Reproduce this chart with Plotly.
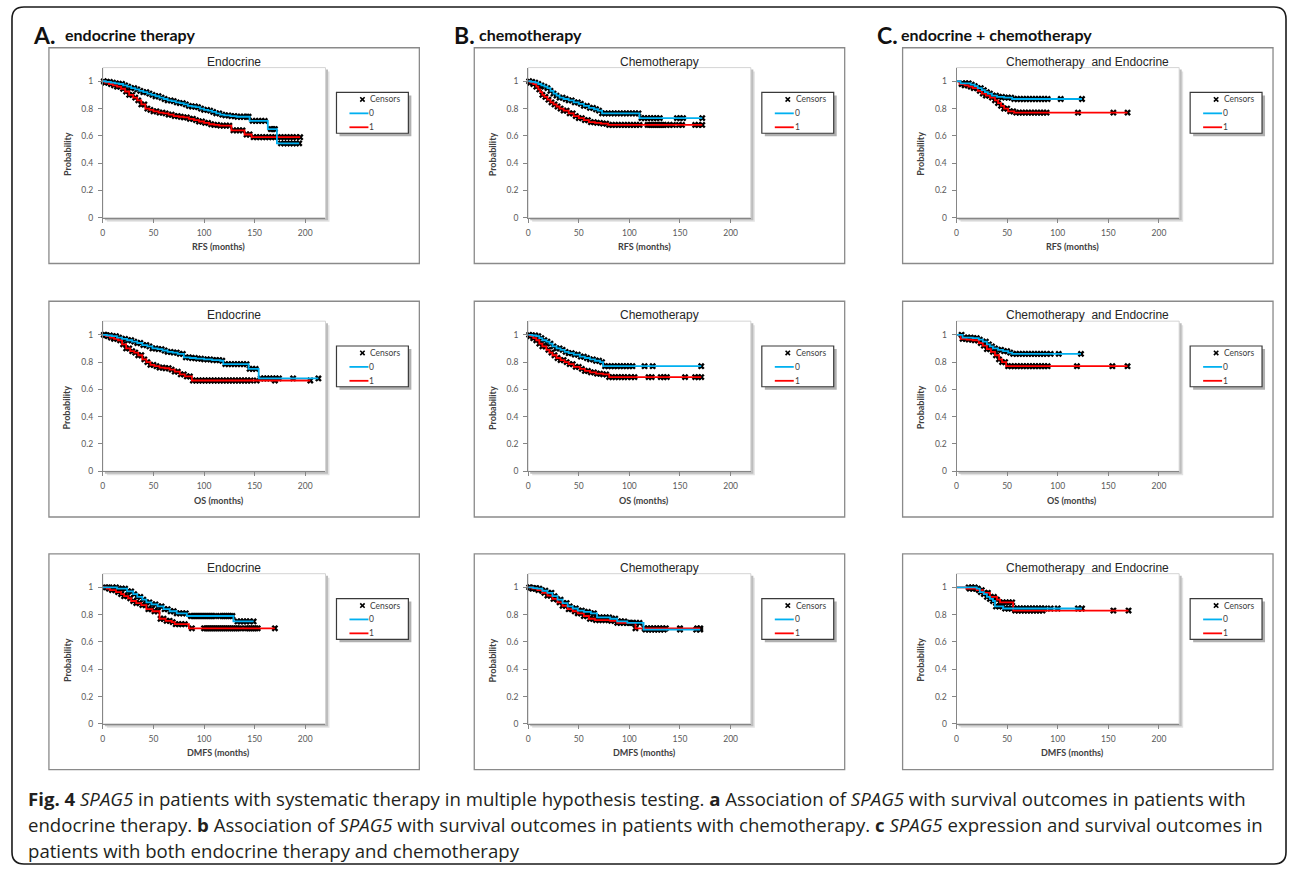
import numpy as np
import plotly.graph_objects as go

# ------------------------------------------------------------------
# DATA  (Kaplan-Meier step points: time of drop, survival after drop;
#        censor times; group 0 = blue, group 1 = red)
# ------------------------------------------------------------------
# A. endocrine therapy -------------------------------------------------
A_RFS_T0 = [3, 8, 12, 16, 20, 24, 28, 32, 36, 40, 44, 48, 52, 56, 60, 64, 68, 72, 76, 80, 84, 88, 92, 96, 100, 104, 108, 112, 116, 120, 126, 132, 145, 163, 172]
A_RFS_S0 = [0.995, 0.99, 0.985, 0.98, 0.97, 0.96, 0.95, 0.94, 0.93, 0.92, 0.91, 0.90, 0.89, 0.88, 0.87, 0.86, 0.855, 0.845, 0.84, 0.83, 0.82, 0.815, 0.81, 0.80, 0.79, 0.785, 0.775, 0.765, 0.755, 0.75, 0.745, 0.74, 0.71, 0.65, 0.545]
A_RFS_C0 = [1, 4, 7, 10, 13, 16, 19, 22, 25, 28, 31, 34, 37, 40, 43, 46, 49, 52, 55, 58, 61, 64, 67, 70, 73, 76, 79, 82, 85, 88, 91, 94, 97, 100, 103, 106, 109, 112, 115, 118, 121, 124, 127, 130, 133, 136, 139, 142, 144, 148, 151, 154, 157, 160, 166, 168, 170, 176, 179, 182, 185, 188, 191, 194]
A_RFS_T1 = [2, 6, 10, 14, 18, 22, 26, 30, 34, 38, 42, 46, 50, 55, 60, 65, 70, 75, 80, 85, 90, 95, 100, 105, 110, 115, 127, 140, 147]
A_RFS_S1 = [0.99, 0.98, 0.97, 0.96, 0.945, 0.925, 0.90, 0.88, 0.86, 0.83, 0.80, 0.79, 0.78, 0.77, 0.765, 0.755, 0.745, 0.74, 0.735, 0.725, 0.715, 0.705, 0.695, 0.685, 0.68, 0.675, 0.64, 0.61, 0.59]
A_RFS_C1 = [2, 5, 8, 11, 14, 17, 20, 23, 26, 29, 32, 35, 38, 41, 44, 47, 50, 53, 56, 59, 62, 65, 68, 71, 74, 77, 80, 83, 86, 89, 92, 95, 98, 101, 104, 107, 110, 113, 116, 119, 122, 125, 129, 132, 135, 138, 142, 145, 149, 152, 155, 158, 161, 164, 167, 170, 173, 176, 179, 182, 185, 188, 191, 195]

A_OS_T0 = [4, 9, 14, 19, 24, 29, 34, 39, 44, 49, 54, 59, 64, 69, 74, 80, 86, 92, 100, 108, 116, 119, 144, 154]
A_OS_S0 = [0.995, 0.99, 0.98, 0.97, 0.96, 0.95, 0.94, 0.925, 0.915, 0.90, 0.895, 0.885, 0.875, 0.87, 0.86, 0.835, 0.83, 0.825, 0.82, 0.815, 0.81, 0.785, 0.75, 0.68]
A_OS_C0 = [1, 4, 7, 10, 13, 16, 19, 22, 25, 28, 31, 34, 37, 40, 43, 46, 49, 52, 55, 58, 61, 64, 67, 70, 73, 76, 79, 82, 85, 88, 91, 94, 97, 100, 103, 106, 109, 112, 115, 118, 121, 124, 127, 130, 133, 136, 139, 142, 145, 148, 151, 156, 159, 162, 165, 168, 171, 174, 188, 213]
A_OS_T1 = [3, 7, 11, 15, 19, 23, 27, 31, 35, 39, 43, 47, 51, 56, 61, 66, 71, 76, 81, 88]
A_OS_S1 = [0.99, 0.98, 0.97, 0.96, 0.93, 0.90, 0.88, 0.87, 0.85, 0.82, 0.80, 0.78, 0.77, 0.76, 0.755, 0.745, 0.73, 0.71, 0.695, 0.665]
A_OS_C1 = [2, 5, 8, 11, 14, 17, 20, 23, 26, 29, 32, 35, 38, 41, 44, 47, 50, 53, 56, 59, 62, 65, 68, 71, 74, 77, 80, 83, 86, 89, 92, 95, 98, 101, 104, 107, 110, 113, 116, 119, 122, 125, 128, 131, 134, 137, 140, 143, 146, 152, 170, 205]

A_DMFS_T0 = [14, 24, 30, 34, 39, 43, 48, 54, 60, 66, 73, 83, 129]
A_DMFS_S0 = [0.99, 0.97, 0.95, 0.93, 0.91, 0.89, 0.875, 0.86, 0.84, 0.825, 0.81, 0.79, 0.75]
A_DMFS_C0 = [5, 10, 13, 16, 19, 22, 25, 28, 31, 34, 37, 40, 43, 46, 49, 52, 55, 58, 61, 64, 67, 70, 73, 76, 79, 82, 87, 89, 91, 93, 95, 97, 99, 101, 103, 105, 107, 109, 111, 116, 118, 120, 122, 124, 126, 128, 133, 136, 139, 142, 145, 149]
A_DMFS_T1 = [4, 7, 13, 18, 21, 25, 28, 33, 38, 43, 49, 56, 62, 68, 71, 85]
A_DMFS_S1 = [0.99, 0.98, 0.965, 0.95, 0.935, 0.92, 0.90, 0.885, 0.87, 0.84, 0.825, 0.77, 0.755, 0.745, 0.73, 0.70]
A_DMFS_C1 = [3, 6, 9, 12, 15, 18, 21, 24, 27, 30, 33, 36, 39, 42, 45, 48, 51, 54, 57, 60, 63, 66, 69, 72, 75, 78, 81, 88, 100, 102, 104, 106, 108, 110, 112, 114, 116, 118, 120, 122, 124, 126, 128, 130, 132, 134, 136, 141, 143, 145, 147, 149, 151, 153, 170]

# B. chemotherapy ------------------------------------------------------
B_RFS_T0 = [3, 7, 10, 13, 16, 19, 22, 25, 28, 31, 35, 40, 45, 50, 55, 60, 65, 69, 73, 110]
B_RFS_S0 = [0.995, 0.99, 0.98, 0.97, 0.96, 0.95, 0.93, 0.91, 0.895, 0.88, 0.87, 0.86, 0.845, 0.835, 0.82, 0.805, 0.795, 0.785, 0.765, 0.73]
B_RFS_C0 = [1, 4, 7, 10, 13, 16, 19, 22, 25, 28, 31, 34, 37, 40, 43, 46, 49, 52, 55, 58, 61, 64, 67, 70, 73, 76, 79, 82, 85, 88, 91, 94, 97, 100, 103, 106, 109, 112, 115, 118, 121, 124, 127, 130, 147, 150, 153, 172]
B_RFS_T1 = [2, 5, 8, 10, 12, 14, 16, 19, 22, 25, 28, 31, 35, 40, 45, 50, 55, 60, 66, 72, 79]
B_RFS_S1 = [0.99, 0.98, 0.96, 0.94, 0.92, 0.90, 0.885, 0.865, 0.845, 0.83, 0.815, 0.80, 0.785, 0.765, 0.745, 0.73, 0.715, 0.70, 0.695, 0.69, 0.68]
B_RFS_C1 = [2, 5, 8, 11, 14, 17, 20, 23, 26, 29, 32, 35, 38, 41, 44, 47, 50, 53, 56, 59, 62, 65, 68, 71, 74, 77, 80, 83, 86, 89, 92, 95, 98, 101, 104, 107, 110, 118, 120, 122, 124, 126, 128, 130, 132, 134, 137, 140, 143, 149, 152, 165, 168, 172]

B_OS_T0 = [4, 8, 11, 14, 18, 21, 24, 28, 32, 36, 40, 45, 51, 56, 61, 66, 71, 74]
B_OS_S0 = [0.995, 0.99, 0.975, 0.96, 0.95, 0.935, 0.915, 0.90, 0.89, 0.875, 0.865, 0.855, 0.84, 0.83, 0.82, 0.81, 0.80, 0.77]
B_OS_C0 = [1, 4, 7, 10, 13, 16, 19, 22, 25, 28, 31, 34, 37, 40, 43, 46, 49, 52, 55, 58, 61, 64, 67, 70, 73, 76, 79, 82, 85, 88, 91, 94, 97, 100, 103, 115, 123, 171]
B_OS_T1 = [2, 5, 8, 11, 14, 18, 21, 24, 28, 32, 36, 40, 45, 51, 56, 61, 67, 74, 80]
B_OS_S1 = [0.99, 0.975, 0.96, 0.935, 0.915, 0.89, 0.87, 0.85, 0.83, 0.815, 0.80, 0.785, 0.765, 0.75, 0.735, 0.725, 0.715, 0.71, 0.69]
B_OS_C1 = [2, 5, 8, 11, 14, 17, 20, 23, 26, 29, 32, 35, 38, 41, 44, 47, 50, 53, 56, 59, 62, 65, 68, 71, 74, 77, 80, 83, 86, 89, 92, 95, 98, 102, 105, 119, 122, 131, 134, 137, 155, 165, 168, 171]

B_DMFS_T0 = [5, 9, 14, 19, 24, 29, 34, 39, 44, 49, 55, 62, 68, 81, 88, 98, 114]
B_DMFS_S0 = [0.995, 0.99, 0.975, 0.96, 0.935, 0.91, 0.885, 0.86, 0.845, 0.83, 0.82, 0.81, 0.78, 0.77, 0.75, 0.74, 0.69]
B_DMFS_C0 = [2, 5, 8, 11, 14, 17, 20, 23, 26, 29, 32, 35, 38, 41, 44, 47, 50, 53, 56, 59, 62, 65, 68, 71, 74, 77, 80, 83, 86, 89, 92, 95, 98, 101, 104, 107, 110, 116, 119, 122, 125, 128, 131, 134, 150, 166, 170]
B_DMFS_T1 = [4, 9, 14, 19, 24, 29, 34, 39, 44, 49, 55, 60, 66, 81, 88, 106]
B_DMFS_S1 = [0.99, 0.98, 0.96, 0.94, 0.915, 0.89, 0.865, 0.84, 0.825, 0.81, 0.79, 0.77, 0.76, 0.755, 0.74, 0.70]
B_DMFS_C1 = [1, 4, 7, 10, 13, 16, 19, 22, 25, 28, 31, 34, 37, 40, 43, 46, 49, 52, 55, 58, 61, 64, 67, 70, 73, 76, 79, 82, 85, 88, 91, 94, 97, 100, 103, 106, 115, 118, 121, 124, 127, 130, 133, 136, 150, 167, 170]

# C. endocrine + chemotherapy -----------------------------------------
C_RFS_T0 = [4, 14, 18, 21, 25, 28, 31, 35, 40, 47, 55]
C_RFS_S0 = [0.985, 0.975, 0.965, 0.95, 0.935, 0.92, 0.91, 0.895, 0.885, 0.88, 0.87]
C_RFS_C0 = [6, 9, 12, 15, 18, 21, 24, 27, 30, 33, 36, 39, 42, 45, 48, 51, 54, 57, 60, 63, 66, 69, 72, 75, 78, 81, 84, 87, 90, 103, 124]
C_RFS_T1 = [3, 8, 12, 16, 21, 25, 29, 33, 38, 41, 44, 47, 51, 57]
C_RFS_S1 = [0.98, 0.97, 0.96, 0.95, 0.93, 0.91, 0.895, 0.88, 0.86, 0.84, 0.82, 0.80, 0.78, 0.77]
C_RFS_C1 = [5, 8, 11, 14, 17, 20, 23, 26, 29, 32, 35, 38, 41, 44, 47, 50, 53, 56, 59, 62, 65, 68, 71, 74, 77, 80, 83, 86, 89, 120, 155, 169]

C_OS_T0 = [6, 16, 22, 26, 30, 33, 36, 41, 46, 51, 55]
C_OS_S0 = [0.98, 0.975, 0.965, 0.95, 0.93, 0.915, 0.90, 0.89, 0.88, 0.87, 0.86]
C_OS_C0 = [5, 8, 11, 14, 17, 20, 23, 26, 29, 32, 35, 38, 41, 44, 47, 50, 53, 56, 59, 62, 65, 68, 71, 74, 77, 80, 83, 86, 89, 93, 101, 123]
C_OS_T1 = [4, 10, 16, 22, 26, 30, 34, 38, 42, 45, 49]
C_OS_S1 = [0.97, 0.965, 0.96, 0.94, 0.92, 0.895, 0.875, 0.85, 0.82, 0.80, 0.77]
C_OS_C1 = [6, 9, 12, 15, 18, 21, 24, 27, 30, 33, 36, 39, 42, 45, 48, 51, 54, 57, 60, 63, 66, 69, 72, 75, 78, 81, 84, 87, 90, 119, 154, 169]

C_DMFS_T0 = [20, 23, 27, 30, 33, 36, 38, 46]
C_DMFS_S0 = [0.99, 0.965, 0.95, 0.93, 0.915, 0.90, 0.86, 0.845]
C_DMFS_C0 = [12, 15, 18, 21, 24, 27, 30, 33, 36, 39, 42, 45, 48, 51, 54, 57, 60, 63, 66, 69, 72, 75, 78, 81, 84, 87, 93, 100, 120, 124]
C_DMFS_T1 = [10, 20, 26, 33, 40, 43, 56]
C_DMFS_S1 = [0.99, 0.98, 0.96, 0.93, 0.91, 0.89, 0.83]
C_DMFS_C1 = [13, 16, 19, 22, 25, 28, 31, 34, 37, 40, 43, 46, 49, 52, 55, 58, 61, 64, 67, 70, 73, 76, 79, 82, 85, 155, 170]

# Text ------------------------------------------------------------------
HEAD_LETTERS = ["A.", "B.", "C."]
HEAD_TEXTS = ["endocrine therapy", "chemotherapy", "endocrine + chemotherapy"]
CHART_TITLES = ["Endocrine", "Chemotherapy", "Chemotherapy\u00a0 and Endocrine"]
X_TITLES = ["RFS (months)", "OS (months)", "DMFS (months)"]
Y_TITLE = "Probability"
Y_TICKS = [0, 0.2, 0.4, 0.6, 0.8, 1]
Y_TICK_LABELS = ["0", "0.2", "0.4", "0.6", "0.8", "1"]
X_TICKS = [0, 50, 100, 150, 200]
LEGEND_LABELS = ["Censors", "0", "1"]
CAPTION = [
    "<b>Fig. 4</b> <i>SPAG5</i> in patients with systematic therapy in multiple hypothesis testing. <b>a</b> Association of <i>SPAG5</i> with survival outcomes in patients with",
    "endocrine therapy. <b>b</b> Association of <i>SPAG5</i> with survival outcomes in patients with chemotherapy. <b>c</b> <i>SPAG5</i> expression and survival outcomes in",
    "patients with both endocrine therapy and chemotherapy",
]

# table built from the named lists: rows = endpoint, cols = therapy
PANELS = [
    [(A_RFS_T0, A_RFS_S0, A_RFS_C0, A_RFS_T1, A_RFS_S1, A_RFS_C1),
     (B_RFS_T0, B_RFS_S0, B_RFS_C0, B_RFS_T1, B_RFS_S1, B_RFS_C1),
     (C_RFS_T0, C_RFS_S0, C_RFS_C0, C_RFS_T1, C_RFS_S1, C_RFS_C1)],
    [(A_OS_T0, A_OS_S0, A_OS_C0, A_OS_T1, A_OS_S1, A_OS_C1),
     (B_OS_T0, B_OS_S0, B_OS_C0, B_OS_T1, B_OS_S1, B_OS_C1),
     (C_OS_T0, C_OS_S0, C_OS_C0, C_OS_T1, C_OS_S1, C_OS_C1)],
    [(A_DMFS_T0, A_DMFS_S0, A_DMFS_C0, A_DMFS_T1, A_DMFS_S1, A_DMFS_C1),
     (B_DMFS_T0, B_DMFS_S0, B_DMFS_C0, B_DMFS_T1, B_DMFS_S1, B_DMFS_C1),
     (C_DMFS_T0, C_DMFS_S0, C_DMFS_C0, C_DMFS_T1, C_DMFS_S1, C_DMFS_C1)],
]

# ------------------------------------------------------------------
# LAYOUT GEOMETRY (pixels)
# ------------------------------------------------------------------
W, H = 1290, 873
BOX_X = [47, 473, 902]
BOX_Y = [48, 303, 557]
BOX_W, BOX_H = 371, 217
PA_L, PA_R, PA_T, PA_B = 54, 277, 20, 171

BLUE = "#00B0F0"
RED = "#FF0000"
AXC = "#868686"
TICK_FONT = dict(family="Lato", size=8.5, color="#595959")


def fx(x):
    return x / W


def fy(y):
    return 1 - y / H


def rect(x0, y0, x1, y1, **kw):
    return dict(type="rect", xref="paper", yref="paper",
                x0=fx(x0), x1=fx(x1), y0=fy(y1), y1=fy(y0), **kw)


def seg(x0, y0, x1, y1, color, width):
    return dict(type="line", xref="paper", yref="paper",
                x0=fx(x0), y0=fy(y0), x1=fx(x1), y1=fy(y1),
                line=dict(color=color, width=width))


def ann(x, y, text, font, xanchor="left", yanchor="middle", **kw):
    return dict(xref="paper", yref="paper", x=fx(x), y=fy(y), text=text,
                showarrow=False, xanchor=xanchor, yanchor=yanchor, font=font, **kw)


def step_xy(T, S, C):
    end = max(max(C), max(T))
    xs = [0] + list(T) + [end]
    ys = [1] + list(S) + [S[-1]]
    return xs, ys


def surv_at(T, S, C):
    T = np.asarray(T, float)
    S = np.asarray(S, float)
    idx = np.searchsorted(T, np.asarray(C, float), side="right") - 1
    return np.where(idx >= 0, S[np.clip(idx, 0, None)], 1.0)


fig = go.Figure()
shapes = []
anns = []

# outer rounded frame
fx0, fy0, fx1, fy1, rr = 10, 7, 1286, 869, 12
P = lambda x, y: f"{fx(x):.5f},{fy(y):.5f}"
frame_path = (f"M {P(fx0 + rr, fy0)} L {P(fx1 - rr, fy0)} Q {P(fx1, fy0)} {P(fx1, fy0 + rr)} "
              f"L {P(fx1, fy1 - rr)} Q {P(fx1, fy1)} {P(fx1 - rr, fy1)} "
              f"L {P(fx0 + rr, fy1)} Q {P(fx0, fy1)} {P(fx0, fy1 - rr)} "
              f"L {P(fx0, fy0 + rr)} Q {P(fx0, fy0)} {P(fx0 + rr, fy0)} Z")
shapes.append(dict(type="path", xref="paper", yref="paper", path=frame_path,
                   line=dict(color="#1a1a1a", width=1.6), layer="below"))

# panel headers
HEAD_X = [29, 451, 874]
HEAD_TX = [61, 476, 898]
for c in range(3):
    anns.append(ann(HEAD_X[c], 35, f"<b>{HEAD_LETTERS[c]}</b>",
                    dict(family="Lato", size=23, color="#111111")))
    anns.append(ann(HEAD_TX[c], 35, f"<b>{HEAD_TEXTS[c]}</b>",
                    dict(family="Lato", size=16, color="#111111")))

k = 0
for r in range(3):
    for c in range(3):
        k += 1
        bx, by = BOX_X[c], BOX_Y[r]
        xa = "x" if k == 1 else f"x{k}"
        ya = "y" if k == 1 else f"y{k}"
        x0, x1 = bx + PA_L, bx + PA_R
        y0, y1 = by + PA_T, by + PA_B

        # chart box
        shapes.append(rect(bx, by, bx + BOX_W, by + BOX_H, line=dict(color="#8a8a8a", width=1.3),
                           fillcolor="white", layer="below"))
        # plot-area shadow + plot area
        shapes.append(rect(x0 + 4, y0 + 4, x1 + 4, y1 + 4, line=dict(width=0),
                           fillcolor="#e2e2e2", layer="below"))
        shapes.append(rect(x0 + 2, y0 + 2, x1 + 2.5, y1 + 2.5, line=dict(width=0),
                           fillcolor="#bdbdbd", layer="below"))
        shapes.append(rect(x0, y0, x1, y1, line=dict(color="#d4d4d4", width=1),
                           fillcolor="white", layer="below"))

        T0, S0, C0, T1, S1, C1 = PANELS[r][c]
        cx = list(C0) + list(C1)
        cy = list(surv_at(T0, S0, C0)) + list(surv_at(T1, S1, C1))
        fig.add_trace(go.Scatter(x=cx, y=cy, mode="markers", xaxis=xa, yaxis=ya,
                                 marker=dict(symbol="x", size=6, color="black", line=dict(width=0)),
                                 cliponaxis=False, showlegend=False, hoverinfo="skip"))
        for (T, S, C, col) in ((T1, S1, C1, RED), (T0, S0, C0, BLUE)):
            xs, ys = step_xy(T, S, C)
            fig.add_trace(go.Scatter(x=xs, y=ys, mode="lines", xaxis=xa, yaxis=ya,
                                     line=dict(color=col, width=1.8, shape="hv"),
                                     cliponaxis=False, showlegend=False, hoverinfo="skip"))

        axkw = dict(ticks="outside", ticklen=4, tickcolor=AXC, tickwidth=1, showline=True,
                    linecolor=AXC, linewidth=1, showgrid=False, zeroline=False,
                    tickfont=TICK_FONT, fixedrange=True)
        fig.layout[f"xaxis{'' if k == 1 else k}"] = dict(
            domain=[fx(x0), fx(x1)], anchor=ya, range=[0, 220], tickvals=X_TICKS,
            ticklabelstandoff=3, **axkw)
        fig.layout[f"yaxis{'' if k == 1 else k}"] = dict(
            domain=[fy(y1), fy(y0)], anchor=xa, range=[0, 1.1], tickvals=Y_TICKS,
            ticktext=Y_TICK_LABELS, ticklabelstandoff=3, **axkw)

        # titles
        anns.append(ann(bx + 185.5, by + 14, CHART_TITLES[c],
                        dict(family="Liberation Sans", size=12, color="#262626"), xanchor="center"))
        anns.append(ann(bx + 170, by + 200, f"<b>{X_TITLES[r]}</b>",
                        dict(family="Lato", size=9, color="#404040"), xanchor="center"))
        anns.append(ann(bx + 18, by + 107, f"<b>{Y_TITLE}</b>",
                        dict(family="Lato", size=9, color="#404040"), xanchor="center", textangle=-90))

        # legend box
        lx0, ly0, lx1, ly1 = bx + 288, by + 45, bx + 360, by + 86
        shapes.append(rect(lx0 + 3, ly0 + 3, lx1 + 3, ly1 + 3, line=dict(width=0),
                           fillcolor="#b0b0b0", layer="below"))
        shapes.append(rect(lx0, ly0, lx1, ly1, line=dict(color="#3a3a3a", width=1.2),
                           fillcolor="white", layer="below"))
        mx, my, hs = lx0 + 26, ly0 + 7, 2.2
        shapes.append(seg(mx - hs, my - hs, mx + hs, my + hs, "black", 1.6))
        shapes.append(seg(mx - hs, my + hs, mx + hs, my - hs, "black", 1.6))
        shapes.append(seg(lx0 + 13, ly0 + 21, lx0 + 32, ly0 + 21, BLUE, 1.8))
        shapes.append(seg(lx0 + 13, ly0 + 35, lx0 + 32, ly0 + 35, RED, 1.8))
        lf = dict(family="Lato", size=8.5, color="#404040")
        anns.append(ann(lx0 + 32, ly0 + 7, LEGEND_LABELS[0], lf))
        anns.append(ann(lx0 + 31, ly0 + 21, LEGEND_LABELS[1], lf))
        anns.append(ann(lx0 + 31, ly0 + 35, LEGEND_LABELS[2], lf))

# caption
for i, line in enumerate(CAPTION):
    anns.append(ann(24, 803 + 26 * i, line, dict(family="Open Sans", size=18.6, color="#231f20")))

fig.update_layout(width=W, height=H, margin=dict(l=0, r=0, t=0, b=0),
                  paper_bgcolor="white", plot_bgcolor="rgba(0,0,0,0)",
                  showlegend=False, shapes=shapes, annotations=anns)

fig.write_html("out.html", config=dict(displayModeBar=False, staticPlot=True),
               post_script="document.body.style.margin='0';document.body.style.overflow='hidden';")
